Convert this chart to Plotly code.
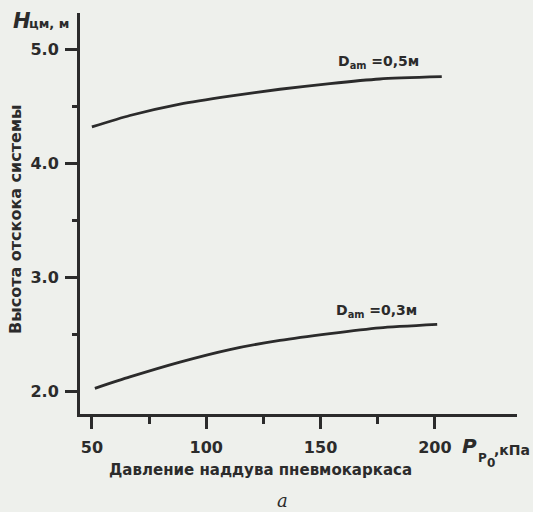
import plotly.graph_objects as go

# Inflation pressure of the pneumatic frame, kPa
pressure_05 = [50, 66.6, 88.5, 110.3, 132.2, 154.1, 175.9, 203]
pressure_03 = [51.3, 66.6, 88.5, 110.3, 132.2, 154.1, 175.9, 201]
# Rebound height of the system, m
height_05 = [4.32, 4.42, 4.52, 4.59, 4.65, 4.70, 4.74, 4.76]
height_03 = [2.03, 2.13, 2.26, 2.37, 2.45, 2.51, 2.56, 2.59]

x_ticks = [50, 100, 150, 200]
x_minor = [75, 125, 175]
y_ticks = [2.0, 3.0, 4.0, 5.0]
y_minor = [2.5, 3.5, 4.5]
y_tick_text = ["2.0", "3.0", "4.0", "5.0"]

ink = "#2b2b2b"
paper = "#eef0ec"
font = "DejaVu Sans, sans-serif"

fig = go.Figure()
for xs, ys in [(pressure_05, height_05), (pressure_03, height_03)]:
    fig.add_trace(go.Scatter(
        x=xs, y=ys, mode="lines",
        line=dict(color=ink, width=2.8, shape="spline", smoothing=0.6),
        showlegend=False, hoverinfo="skip",
    ))

fig.update_layout(
    width=533, height=512,
    margin=dict(l=80, r=16, t=13, b=98),
    paper_bgcolor=paper, plot_bgcolor=paper,
    font=dict(family=font, color=ink),
    xaxis=dict(
        range=[44.8, 235.9], tickvals=x_ticks, ticks="outside", ticklen=12,
        tickwidth=3, tickcolor=ink, showline=True, linewidth=3, linecolor=ink,
        showgrid=False, zeroline=False, ticklabelstandoff=5,
        tickfont=dict(family=font, size=16, color=ink, weight="bold"),
        minor=dict(tickvals=x_minor, ticks="outside", ticklen=7, tickwidth=2.5,
                   tickcolor=ink, showgrid=False),
    ),
    yaxis=dict(
        range=[1.805, 5.318], tickvals=y_ticks, ticktext=y_tick_text,
        ticks="outside", ticklen=12, tickwidth=3, tickcolor=ink,
        showline=True, linewidth=3, linecolor=ink, showgrid=False,
        zeroline=False, ticklabelstandoff=3,
        tickfont=dict(family=font, size=16, color=ink, weight="bold"),
        minor=dict(tickvals=y_minor, ticks="outside", ticklen=5, tickwidth=2.5,
                   tickcolor=ink, showgrid=False),
    ),
)

# pixel -> paper fraction helpers
W, H = 533, 512
L, R, T, B = 80, 16, 13, 98
pw, ph = W - L - R, H - T - B
def px(x):
    return (x - L) / pw
def py(y):
    return (H - B - y) / ph

def note(text, x, y, size, xanchor="left", yanchor="middle", **kw):
    fig.add_annotation(
        text=text, x=px(x), y=py(y), xref="paper", yref="paper",
        xanchor=xanchor, yanchor=yanchor, showarrow=False,
        font=dict(family=kw.pop("family", font), size=size, color=ink,
                  weight=kw.pop("weight", "bold"), style=kw.pop("style", "normal")),
        **kw,
    )

# Curve labels
note("D<sub>am</sub> =0,5м", 336, 62, 14)
note("D<sub>am</sub> =0,3м", 334, 311, 14)

# Y axis symbol and title
note("H", 11, 21, 21, style="italic")
note("цм, м", 27, 24, 13)
note("Высота отскока системы", 16, 220, 16, xanchor="center", textangle=-90)

# X axis symbol and title
note("P", 460, 446, 20, style="italic")
note("P", 476, 458, 12)
note("0", 485, 463, 12)
note(",кПа", 492, 450, 14)
note("Давление наддува пневмокаркаса", 260, 470, 15, xanchor="center")
note("a", 282, 500, 18, xanchor="center", style="italic",
     family="DejaVu Serif, serif", weight="normal")

fig.write_html("out.html")
